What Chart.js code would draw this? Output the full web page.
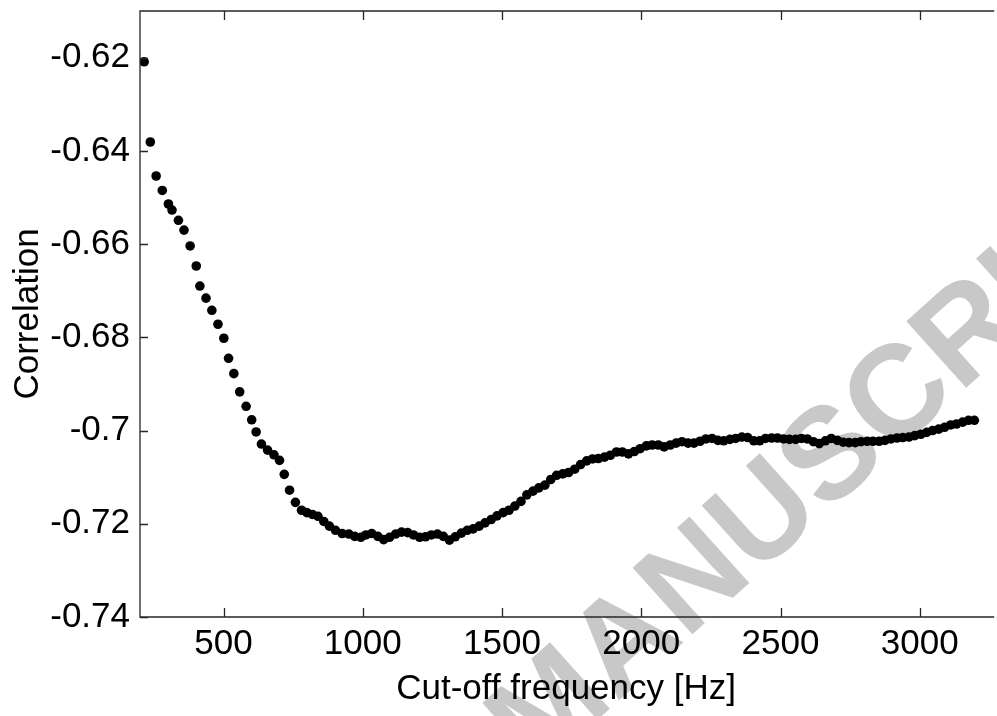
<!DOCTYPE html>
<html>
<head>
<meta charset="utf-8">
<script src="https://cdn.jsdelivr.net/npm/chart.js@4.4.1/dist/chart.umd.min.js"></script>
<style>
  html,body{margin:0;padding:0;background:#fff;overflow:hidden}
  #wrap{width:997px;height:716px}
</style>
</head>
<body>
<div id="wrap"><canvas id="ch" width="997" height="716"></canvas></div>
<script>
// cut-off frequency [Hz] and correlation
const freqs=[215,237,258,280,302,315,338,358,380,402,
  415,437,458,480,501,518,537,558,581,601,
  617,636,658,681,701,718,737,758,780,799,
  819,839,860,880,902,926,950,971,993,1011,
  1032,1054,1075,1096,1118,1139,1161,1182,1204,1225,
  1246,1268,1289,1311,1332,1354,1375,1396,1418,1439,
  1461,1482,1504,1525,1546,1568,1589,1611,1632,1654,
  1675,1696,1718,1739,1761,1782,1804,1825,1846,1868,
  1889,1911,1932,1954,1975,1996,2018,2039,2061,2082,
  2104,2125,2146,2168,2189,2211,2232,2254,2275,2296,
  2318,2339,2361,2382,2404,2425,2446,2468,2489,2511,
  2532,2554,2575,2596,2618,2639,2661,2682,2704,2725,
  2746,2768,2789,2811,2832,2854,2875,2896,2918,2939,
  2961,2982,3004,3025,3046,3068,3089,3111,3132,3154,
  3175,3196];
const corr=[-0.6209,-0.6381,-0.6454,-0.6485,-0.6514,-0.6527,-0.6549,-0.6570,-0.6604,-0.6647,
  -0.6690,-0.6716,-0.6742,-0.6772,-0.6802,-0.6845,-0.6878,-0.6917,-0.6948,-0.6977,
  -0.7003,-0.7029,-0.7042,-0.7052,-0.7064,-0.7094,-0.7128,-0.7154,-0.7171,-0.7176,
  -0.7180,-0.7184,-0.7195,-0.7205,-0.7214,-0.7221,-0.7222,-0.7227,-0.7229,-0.7224,
  -0.7221,-0.7227,-0.7234,-0.7229,-0.7222,-0.7218,-0.7219,-0.7224,-0.7229,-0.7228,
  -0.7224,-0.7222,-0.7227,-0.7235,-0.7228,-0.7220,-0.7214,-0.7211,-0.7205,-0.7198,
  -0.7191,-0.7183,-0.7176,-0.7171,-0.7162,-0.7152,-0.7138,-0.7130,-0.7123,-0.7117,
  -0.7105,-0.7096,-0.7093,-0.7090,-0.7083,-0.7073,-0.7065,-0.7061,-0.7060,-0.7057,
  -0.7053,-0.7046,-0.7046,-0.7050,-0.7045,-0.7039,-0.7033,-0.7031,-0.7031,-0.7035,
  -0.7031,-0.7027,-0.7024,-0.7027,-0.7027,-0.7023,-0.7018,-0.7017,-0.7021,-0.7022,
  -0.7019,-0.7017,-0.7014,-0.7015,-0.7022,-0.7022,-0.7017,-0.7016,-0.7016,-0.7018,
  -0.7019,-0.7019,-0.7017,-0.7018,-0.7024,-0.7028,-0.7022,-0.7017,-0.7021,-0.7025,
  -0.7026,-0.7026,-0.7024,-0.7023,-0.7023,-0.7023,-0.7021,-0.7018,-0.7016,-0.7015,
  -0.7014,-0.7011,-0.7008,-0.7004,-0.7000,-0.6997,-0.6993,-0.6988,-0.6986,-0.6982,
  -0.6978,-0.6978];
const xTicks=[500,1000,1500,2000,2500,3000];
const yTicks=[-0.74,-0.72,-0.7,-0.68,-0.66,-0.64,-0.62];

const FONT="'Liberation Sans', Arial, sans-serif";

// axes box with inward ticks (matlab style), plus the grey manuscript stamp
const frame={
  id:'frame',
  beforeDraw(chart){
    const ctx=chart.ctx;
    ctx.save();
    ctx.font='bold 130px '+FONT;
    ctx.fillStyle='rgb(200,200,200)';
    ctx.textBaseline='middle';
    const pre=ctx.measureText('ACCEPTED MA').width+ctx.measureText('N').width/2;
    ctx.translate(697,582);
    ctx.rotate(-42*Math.PI/180);
    ctx.fillText('ACCEPTED MANUSCRIPT',-pre,0);
    ctx.restore();
  },
  afterDraw(chart){
    const {ctx,chartArea:a,scales:{x,y}}=chart;
    ctx.save();
    ctx.strokeStyle='#262626';
    ctx.lineWidth=1.3;
    ctx.beginPath();
    ctx.moveTo(a.right+2,a.top);ctx.lineTo(a.left,a.top);
    ctx.lineTo(a.left,a.bottom);ctx.lineTo(a.right+2,a.bottom);
    xTicks.forEach(v=>{
      const px=Math.round(x.getPixelForValue(v))+0.5;
      ctx.moveTo(px,a.bottom);ctx.lineTo(px,a.bottom-9);
      ctx.moveTo(px,a.top);ctx.lineTo(px,a.top+9);
    });
    yTicks.forEach(v=>{
      const py=Math.round(y.getPixelForValue(v))+0.5;
      ctx.moveTo(a.left,py);ctx.lineTo(a.left+8,py);
    });
    ctx.stroke();
    ctx.restore();
  }
};

new Chart(document.getElementById('ch'),{
  type:'scatter',
  data:{
    datasets:[{
      data:freqs.map((f,i)=>({x:f,y:corr[i]})),
      backgroundColor:'#000',
      borderWidth:0,
      pointRadius:4.8,
      pointHoverRadius:4.8
    }]
  },
  options:{
    responsive:false,
    animation:false,
    layout:{padding:{top:11,right:0,left:0,bottom:0}},
    plugins:{legend:{display:false},tooltip:{enabled:false}},
    scales:{
      x:{
        type:'linear',min:200,max:3260,
        afterBuildTicks:s=>{s.ticks=xTicks.map(v=>({value:v}));},
        afterFit:s=>{s.height=99;s.paddingLeft=0;s.paddingRight=0;},
        grid:{display:false,drawTicks:false},
        border:{display:false},
        ticks:{padding:6,color:'#000',font:{family:FONT,size:35},callback:v=>String(v),maxRotation:0,autoSkip:false},
        title:{display:true,text:'Cut-off frequency [Hz]',color:'#000',font:{family:FONT,size:35},padding:{top:0,bottom:6}}
      },
      y:{
        type:'linear',min:-0.74,max:-0.61,
        afterBuildTicks:s=>{s.ticks=yTicks.map(v=>({value:v}));},
        afterFit:s=>{s.width=140;s.paddingTop=0;s.paddingBottom=0;},
        grid:{display:false,drawTicks:false},
        border:{display:false},
        ticks:{padding:10,color:'#000',font:{family:FONT,size:35},callback:v=>String(v),autoSkip:false},
        title:{display:true,text:'Correlation',color:'#000',font:{family:FONT,size:35},padding:{top:7,bottom:0}}
      }
    }
  },
  plugins:[frame]
});
</script>
</body>
</html>
